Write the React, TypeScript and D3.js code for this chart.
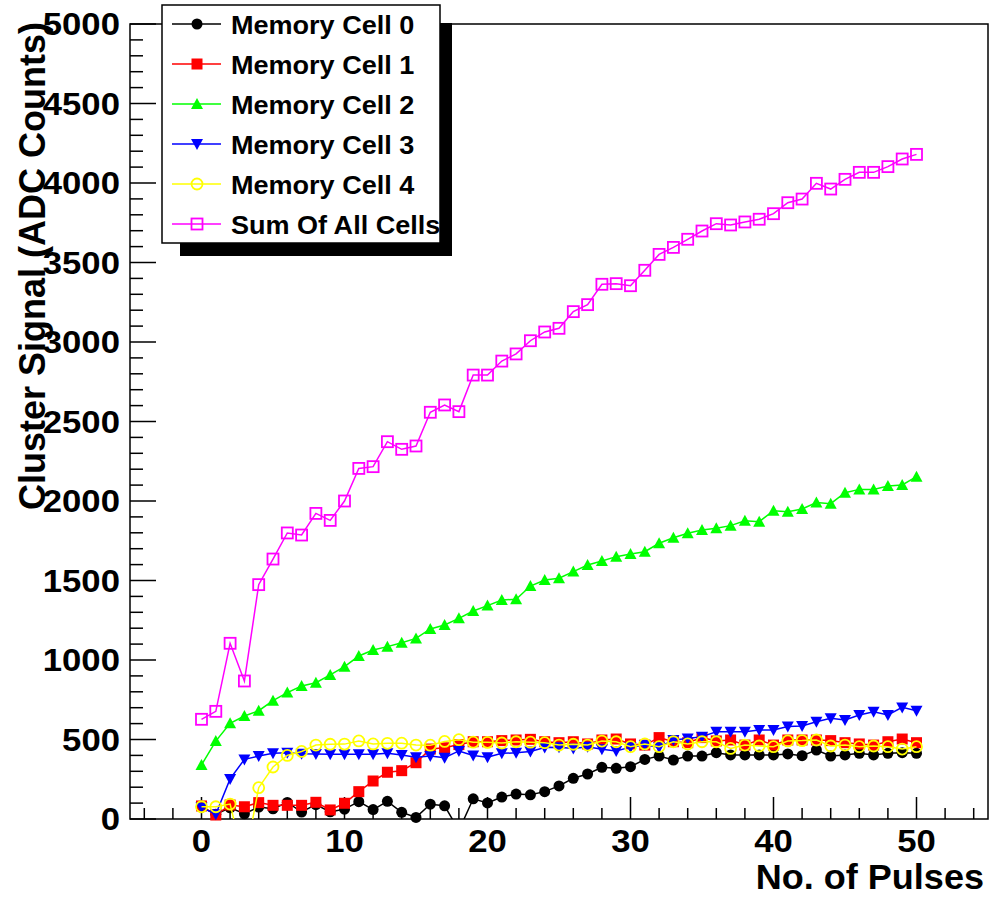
import React from "react";
import * as d3 from "d3";

const pulses = d3.range(0, 51);

const cell0 = [75, 30, 70, 33, 75, 64, 104, 44, 90, 45, 62, 109, 59, 111, 42, 10, 93, 83, -72, 127, 101, 138, 157, 152, 172, 208, 256, 283, 325, 319, 329, 375, 396, 371, 396, 396, 417, 403, 403, 403, 403, 409, 398, 434, 396, 403, 413, 403, 413, 417, 413];
const cell1 = [82, 25, 88, 77, 103, 86, 86, 86, 105, 57, 99, 172, 239, 294, 304, 354, 440, 448, 468, 486, 486, 493, 497, 501, 486, 480, 486, 472, 497, 503, 472, 465, 512, 486, 480, 512, 491, 497, 465, 497, 465, 497, 497, 497, 493, 480, 472, 465, 486, 503, 480];
const cell2 = [340, 490, 602, 648, 681, 744, 795, 836, 857, 906, 958, 1025, 1063, 1084, 1109, 1136, 1195, 1220, 1262, 1308, 1342, 1377, 1382, 1465, 1503, 1514, 1556, 1597, 1623, 1650, 1667, 1681, 1734, 1769, 1797, 1818, 1828, 1845, 1876, 1870, 1939, 1933, 1950, 1990, 1983, 2052, 2073, 2073, 2094, 2101, 2153];
const cell3 = [73, 30, 252, 375, 396, 413, 416, 410, 409, 407, 407, 407, 407, 413, 403, 388, 396, 385, 428, 399, 389, 413, 416, 425, 449, 451, 444, 455, 438, 428, 452, 465, 451, 497, 507, 518, 549, 549, 549, 560, 560, 581, 585, 612, 633, 623, 654, 675, 654, 702, 681];
const cell4 = [77, 77, 94, -275, 197, 327, 400, 425, 465, 470, 471, 491, 472, 476, 477, 465, 464, 488, 499, 483, 482, 478, 486, 483, 480, 465, 470, 465, 490, 486, 455, 472, 455, 486, 472, 486, 486, 444, 465, 459, 455, 491, 493, 497, 459, 465, 455, 459, 455, 440, 455];
const sumAll = [627, 677, 1105, 868, 1474, 1635, 1799, 1786, 1922, 1878, 2000, 2205, 2216, 2373, 2325, 2346, 2558, 2604, 2562, 2792, 2792, 2880, 2925, 3008, 3063, 3086, 3191, 3235, 3363, 3367, 3354, 3451, 3551, 3595, 3646, 3698, 3744, 3736, 3755, 3772, 3807, 3876, 3899, 3998, 3962, 4023, 4067, 4067, 4103, 4151, 4180];

const seriesNames = ["Memory Cell 0", "Memory Cell 1", "Memory Cell 2", "Memory Cell 3", "Memory Cell 4", "Sum Of All Cells"];
const seriesColors = ["#000000", "#ff0000", "#00ff00", "#0000ff", "#ffff00", "#ff00ff"];
const seriesMarkers = ["circle", "square", "triUp", "triDown", "openCircle", "openSquare"];
const seriesValues = [cell0, cell1, cell2, cell3, cell4, sumAll];

const xTicksMajor = [0, 10, 20, 30, 40, 50];
const yTicksMajor = [0, 500, 1000, 1500, 2000, 2500, 3000, 3500, 4000, 4500, 5000];
const xTitle = "No. of Pulses";
const yTitle = "Cluster Signal (ADC Counts)";

const W = 997;
const H = 898;
const FL = 130, FR = 988, FT = 24, FB = 819;
const FONT = "'Liberation Sans', Arial, Helvetica, sans-serif";

function Marker({ kind, color, x, y }: { kind: string; color: string; x: number; y: number }) {
  switch (kind) {
    case "circle":
      return <circle cx={x} cy={y} r={5.5} fill={color} />;
    case "square":
      return <rect x={x - 5.5} y={y - 5.5} width={11} height={11} fill={color} />;
    case "triUp":
      return <path d={`M${x - 6},${y + 5}L${x + 6},${y + 5}L${x},${y - 6}Z`} fill={color} />;
    case "triDown":
      return <path d={`M${x - 6},${y - 5}L${x + 6},${y - 5}L${x},${y + 6}Z`} fill={color} />;
    case "openCircle":
      return <circle cx={x} cy={y} r={5.5} fill="none" stroke={color} strokeWidth={1.8} />;
    case "openSquare":
      return <rect x={x - 5.5} y={y - 5.5} width={11} height={11} fill="none" stroke={color} strokeWidth={1.8} />;
  }
  return null;
}

function T({ x, y, size, anchor = "start", sx = 1, rotate = 0, children }: any) {
  return (
    <text
      transform={`translate(${x},${y}) rotate(${rotate}) scale(${sx},1)`}
      textAnchor={anchor}
      fontFamily={FONT}
      fontWeight="bold"
      fontSize={size}
      fill="#000"
    >
      {children}
    </text>
  );
}

export default function App() {
  const x = d3.scaleLinear().domain([-5, 55]).range([FL, FR]);
  const y = d3.scaleLinear().domain([0, 5000]).range([FB, FT]);
  const line = d3
    .line<number>()
    .x((_, i) => x(pulses[i]))
    .y((d) => y(d));

  const xMinor = d3.range(-4, 55, 2);
  const yMinor = d3.range(0, 5001, 100);

  const legendRows = [24, 64, 104, 144, 184, 224];

  return (
    <svg width={W} height={H} style={{ display: "block", position: "absolute", left: 0, top: 0 }}>
      <defs>
        <clipPath id="frameClip">
          <rect x={FL} y={FT} width={FR - FL} height={FB - FT} />
        </clipPath>
      </defs>
      <rect x={0} y={0} width={W} height={H} fill="#fff" />
      <rect x={FL} y={FT} width={FR - FL} height={FB - FT} fill="none" stroke="#000" strokeWidth={1.5} />
      {xMinor.map((t) => {
        const major = t % 10 === 0;
        return <line key={"xt" + t} x1={x(t)} x2={x(t)} y1={FB} y2={FB - (major ? 22 : 11)} stroke="#000" strokeWidth={1.5} />;
      })}
      {yMinor.map((t) => {
        const major = t % 500 === 0;
        return <line key={"yt" + t} x1={FL} x2={FL + (major ? 26 : 13)} y1={y(t)} y2={y(t)} stroke="#000" strokeWidth={1.5} />;
      })}
      {xTicksMajor.map((t) => (
        <T key={"xl" + t} x={x(t)} y={852} size={31} sx={1.12} anchor="middle">
          {t}
        </T>
      ))}
      {yTicksMajor.map((t) => (
        <T key={"yl" + t} x={120} y={y(t) + 11} size={31} sx={1.12} anchor="end">
          {t}
        </T>
      ))}
      <T x={984} y={889} size={35} sx={1.03} anchor="end">
        {xTitle}
      </T>
      <T x={45} y={22} size={36} anchor="end" rotate={-90}>
        {yTitle}
      </T>
      {seriesValues.map((vals, si) => (
        <g key={"s" + si}>
          <path d={line(vals) || ""} fill="none" stroke={seriesColors[si]} strokeWidth={1.5} clipPath="url(#frameClip)" />
          {vals.map((v, i) =>
            v >= 0 && v <= 5000 ? (
              <Marker key={i} kind={seriesMarkers[si]} color={seriesColors[si]} x={x(pulses[i])} y={y(v)} />
            ) : null
          )}
        </g>
      ))}
      <rect x={180} y={23} width={272} height={233} fill="#000" />
      <rect x={162} y={5} width={278} height={238} fill="#fff" stroke="#000" strokeWidth={1.5} />
      {seriesNames.map((name, i) => (
        <g key={"lg" + i}>
          <line x1={172} x2={221} y1={legendRows[i]} y2={legendRows[i]} stroke={seriesColors[i]} strokeWidth={1.5} />
          <Marker kind={seriesMarkers[i]} color={seriesColors[i]} x={197} y={legendRows[i]} />
          <T x={231} y={legendRows[i] + 9.5} size={26} sx={1.04}>
            {name}
          </T>
        </g>
      ))}
    </svg>
  );
}
